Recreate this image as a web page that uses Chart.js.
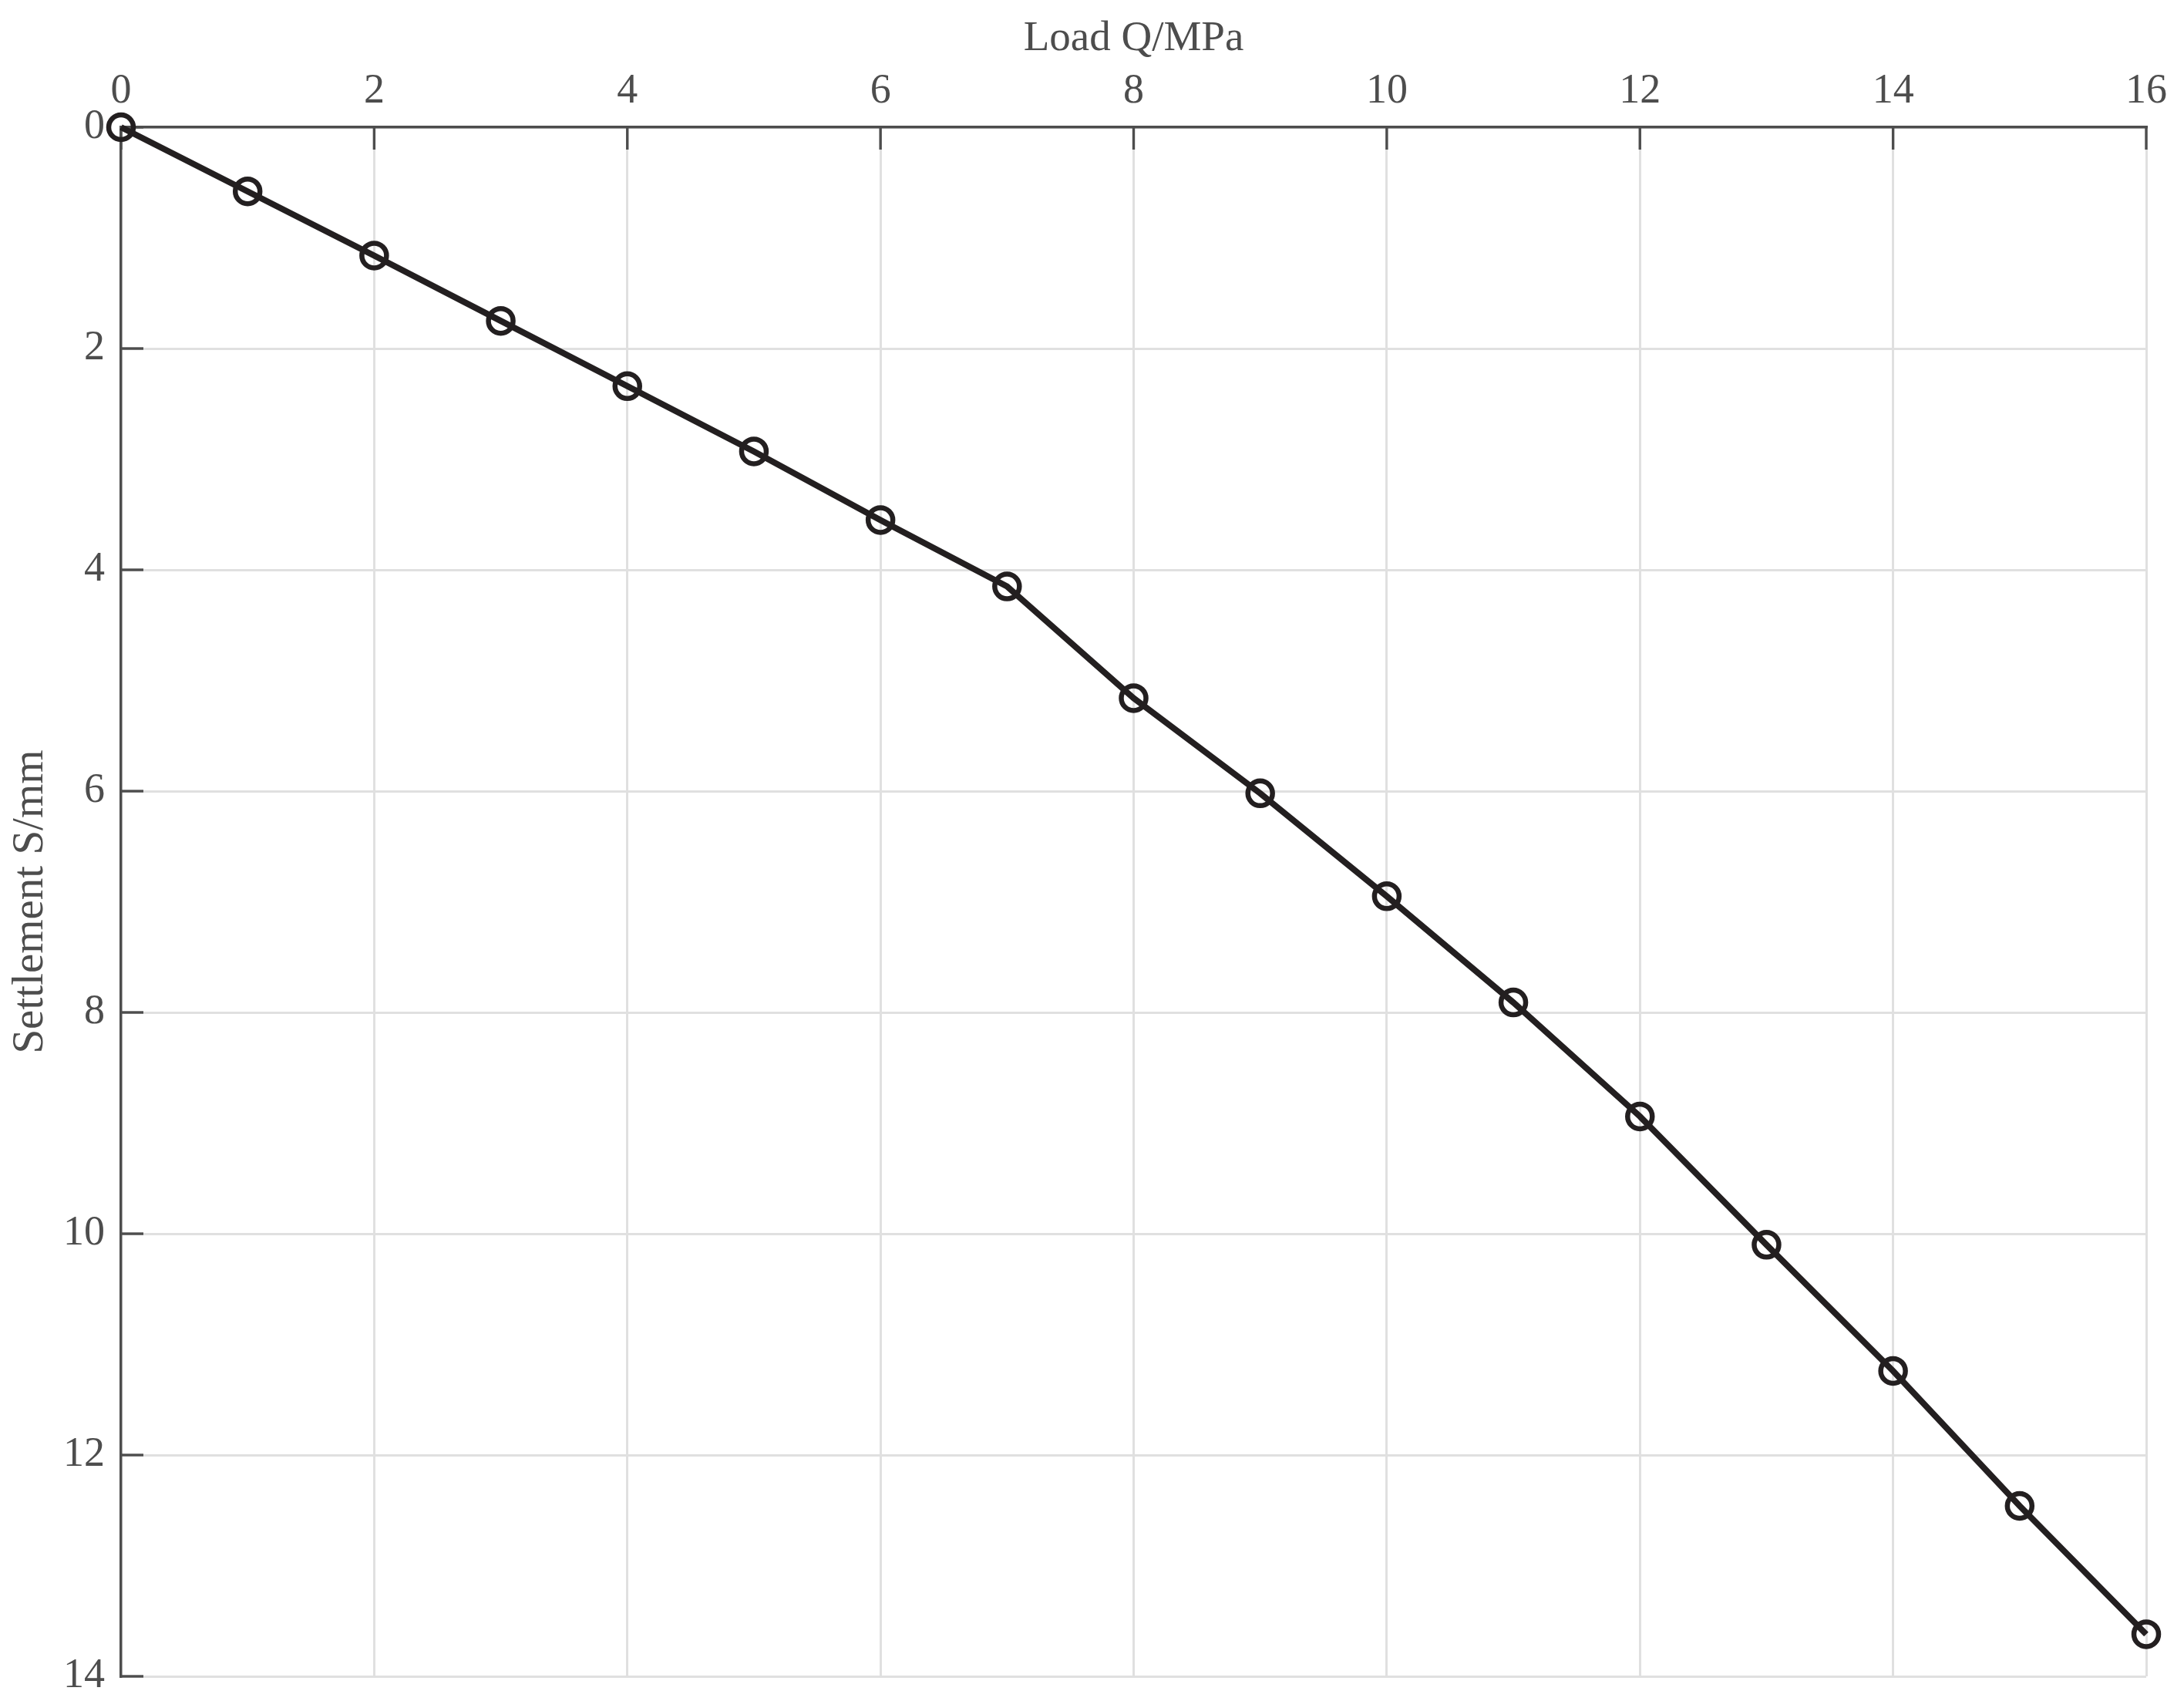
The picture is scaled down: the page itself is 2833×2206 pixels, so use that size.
<!DOCTYPE html>
<html>
<head>
<meta charset="utf-8">
<script src="https://cdn.jsdelivr.net/npm/chart.js@4.4.1/dist/chart.umd.min.js"></script>
<style>
  html, body { margin: 0; padding: 0; background: #fff; }
  canvas { display: block; }
</style>
</head>
<body>
<canvas id="settleChart" width="2833" height="2206"></canvas>
<script>
  // load steps (MPa) and measured settlement (mm)
  const loads = [0, 1, 2, 3, 4, 5, 6, 7, 8, 9, 10, 11, 12, 13, 14, 15, 16];
  const settlement = [0, 0.58, 1.16, 1.75, 2.34, 2.93, 3.55, 4.15, 5.16, 6.02, 6.95, 7.91, 8.94, 10.10, 11.24, 12.46, 13.62];

  const xTicks = [0, 2, 4, 6, 8, 10, 12, 14, 16];
  const yTicks = [0, 2, 4, 6, 8, 10, 12, 14];

  const textColor = '#4d4d4d';
  const axisColor = '#4d4d4d';
  const gridColor = '#e0e0e0';
  const fontFamily = '"Liberation Serif", "Times New Roman", serif';

  // MATLAB style ticks pointing into the plot (top and left only)
  const innerTicks = {
    id: 'innerTicks',
    beforeDatasetsDraw(chart) {
      const { ctx, chartArea, scales } = chart;
      const len = 29;
      ctx.save();
      ctx.strokeStyle = axisColor;
      ctx.lineWidth = 3.4;
      xTicks.forEach(v => {
        const px = scales.x.getPixelForValue(v);
        ctx.beginPath();
        ctx.moveTo(px, chartArea.top);
        ctx.lineTo(px, chartArea.top + len);
        ctx.stroke();
      });
      yTicks.forEach(v => {
        const py = scales.y.getPixelForValue(v);
        ctx.beginPath();
        ctx.moveTo(chartArea.left, py);
        ctx.lineTo(chartArea.left + len, py);
        ctx.stroke();
      });
      ctx.restore();
    }
  };

  const ctx = document.getElementById('settleChart').getContext('2d');
  new Chart(ctx, {
    type: 'line',
    data: {
      datasets: [{
        label: 'Settlement',
        data: loads.map((q, i) => ({ x: q, y: settlement[i] })),
        borderColor: '#231f20',
        borderWidth: 8,
        backgroundColor: 'rgba(0,0,0,0)',
        pointRadius: 16,
        pointBorderWidth: 6.5,
        pointBorderColor: '#231f20',
        pointBackgroundColor: 'rgba(0,0,0,0)',
        pointHoverRadius: 16,
        tension: 0,
        clip: false
      }]
    },
    options: {
      responsive: false,
      devicePixelRatio: 1,
      animation: false,
      layout: { padding: { right: 49, bottom: 0 } },
      plugins: {
        legend: { display: false },
        tooltip: { enabled: false }
      },
      scales: {
        x: {
          type: 'linear',
          position: 'top',
          min: 0,
          max: 16,
          afterFit: s => { s.height = 165; },
          afterBuildTicks: s => { s.ticks = xTicks.map(v => ({ value: v })); },
          ticks: {
            color: textColor,
            font: { family: fontFamily, size: 54 },
            padding: 14,
            maxRotation: 0
          },
          grid: { color: gridColor, lineWidth: 3, drawTicks: false },
          border: { display: true, color: axisColor, width: 3.4 },
          title: {
            display: true,
            text: 'Load Q/MPa',
            color: textColor,
            font: { family: fontFamily, size: 55 },
            padding: { top: 18, bottom: 0 }
          }
        },
        y: {
          type: 'linear',
          position: 'left',
          reverse: true,
          min: 0,
          max: 14,
          afterFit: s => {
            s.width = 157;
            s.paddingTop = 0;
            s.paddingBottom = 32;
          },
          afterBuildTicks: s => { s.ticks = yTicks.map(v => ({ value: v })); },
          ticks: {
            color: textColor,
            font: { family: fontFamily, size: 54 },
            padding: 21
          },
          grid: { color: gridColor, lineWidth: 3, drawTicks: false },
          border: { display: true, color: axisColor, width: 3.4 },
          title: {
            display: true,
            text: 'Settlement S/mm',
            color: textColor,
            font: { family: fontFamily, size: 57 },
            padding: { top: 6, bottom: 0 }
          }
        }
      }
    },
    plugins: [innerTicks]
  });
</script>
</body>
</html>
